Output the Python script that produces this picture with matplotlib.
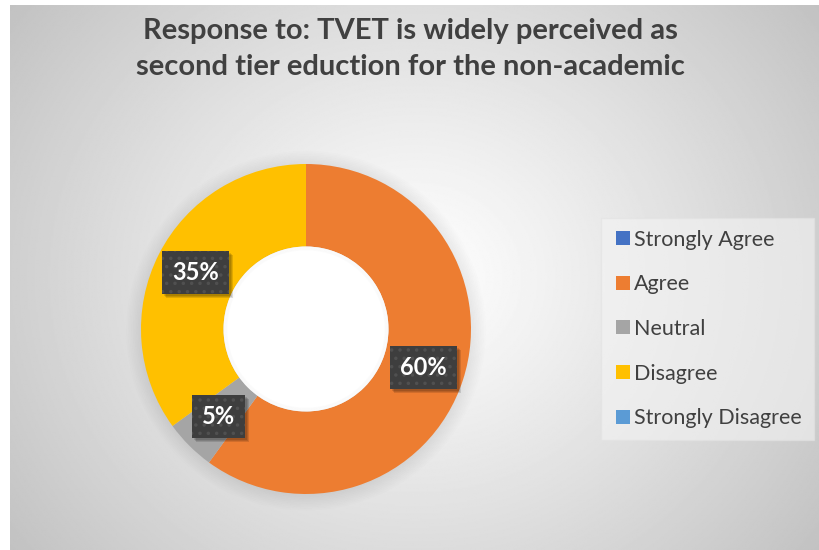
import numpy as np
import matplotlib.pyplot as plt
from matplotlib.lines import Line2D
from matplotlib.patches import Circle, Rectangle

# Survey responses (percent)
categories = ["Strongly Agree", "Agree", "Neutral", "Disagree", "Strongly Disagree"]
values = [0, 60, 5, 35, 0]
colors = ["#4472C4", "#ED7D31", "#A5A5A5", "#FFC000", "#5B9BD5"]
title = "Response to: TVET is widely perceived as\nsecond tier eduction for the non-academic"

plt.rcParams['font.family'] = ['Lato', 'DejaVu Sans']
plt.rcParams['hatch.linewidth'] = 1.3

W, H = 820, 550
fig = plt.figure(figsize=(W / 100, H / 100), dpi=100)
fig.patch.set_facecolor("white")

# radial grey background
bg = fig.add_axes([10 / W, 0, 1 - 10 / W, 1 - 5 / H])
bg.axis("off")
yy, xx = np.mgrid[-1:1:400j, -1:1:600j]
d = np.sqrt(xx ** 2 + (0.75 * yy) ** 2) / np.sqrt(1 + 0.75 ** 2)
shade = 1.0 - 0.24 * d ** 1.1
bg.imshow(shade, cmap="gray", vmin=0, vmax=1, aspect="auto", extent=[0, 1, 0, 1])

fig.text(410 / W, 1 - 49 / H, title, ha="center", va="center", fontsize=21,
         fontweight="bold", color="#404040", linespacing=1.5)

# donut
R = 165
span = 1.3
ax = fig.add_axes([(306 - R * span) / W, (H - 329 - R * span) / H,
                   2 * R * span / W, 2 * R * span / H])
ax.axis("off")

# faint shadow around the ring
for k in range(10):
    ax.add_patch(Circle((0.0, -0.01), 1.0 + 0.01 * k, color="black",
                        alpha=0.008, lw=0, zorder=0))

wedges, texts, autotexts = ax.pie(
    values, colors=colors, startangle=90, counterclock=False, radius=1.0,
    wedgeprops=dict(width=0.5, linewidth=0),
    autopct=lambda p: f"{p:.0f}%" if p > 0 else "", pctdistance=0.75,
    textprops=dict(color="white", fontsize=17, fontweight="bold"))

ax.add_patch(Circle((0, 0), 0.5, color="white", lw=0, zorder=3))
for k in range(5):
    ax.add_patch(Circle((0, 0), 0.5 - 0.005 * k, fill=False, lw=1.0,
                        edgecolor="black", alpha=0.012, zorder=3))

labels = [t for t in autotexts if t.get_text()]
for t in labels:
    t.set_zorder(5)
    t.set_bbox(dict(boxstyle="square,pad=0.42", linewidth=0,
                    facecolor="#3e3e3e", edgecolor="#505050", hatch=".."))

ax.set_xlim(-span, span)
ax.set_ylim(-span, span)
ax.set_aspect("equal")

# drop shadows behind the label boxes
fig.canvas.draw()
for t in labels:
    bb = t.get_bbox_patch().get_window_extent()
    for k, a in enumerate([0.12, 0.12, 0.12]):
        ax.add_artist(Rectangle((bb.x0 + 2 + k, bb.y0 - 2 - k), bb.width, bb.height,
                                transform=None, facecolor="black", alpha=a,
                                lw=0, zorder=4.5))

handles = [Line2D([], [], marker="s", linestyle="", markersize=10.5,
                  markerfacecolor=c, markeredgewidth=0) for c in colors]
leg = fig.legend(handles, categories, loc="center left",
                 bbox_to_anchor=(601 / W, 1 - 329 / H), fontsize=15.5,
                 labelspacing=1.14, handletextpad=0.1, handlelength=0.9,
                 borderpad=0.55, borderaxespad=0, frameon=True, fancybox=False,
                 labelcolor="#404040")
leg.get_frame().set_facecolor("#f4f4f4")
leg.get_frame().set_alpha(0.6)
leg.get_frame().set_edgecolor("#e2e2e2")

fig.savefig("out.png", dpi=100)
